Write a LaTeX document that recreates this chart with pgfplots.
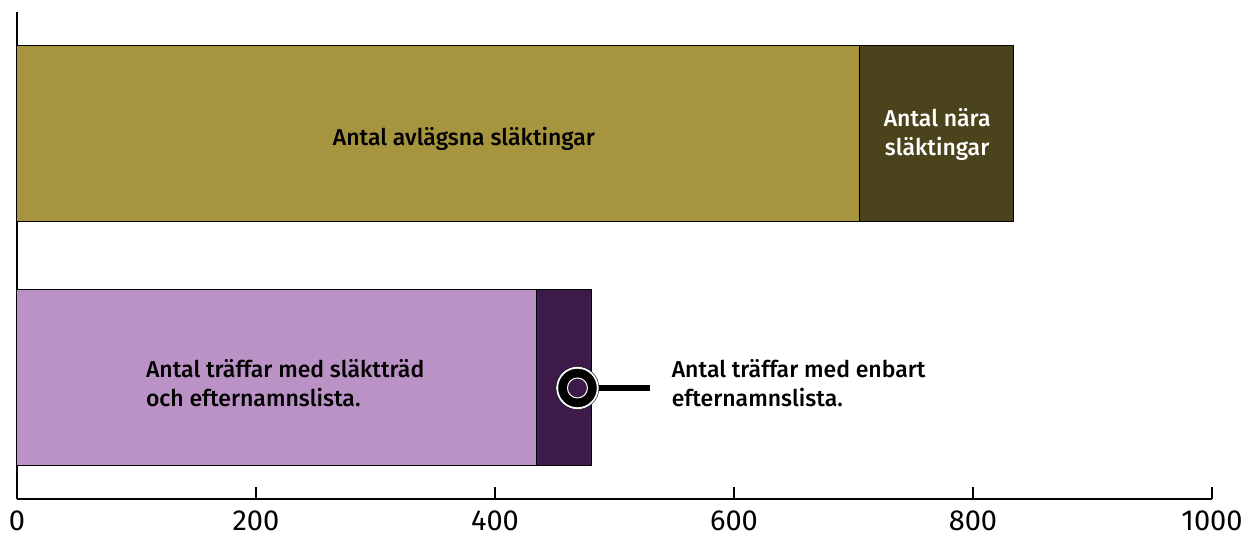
\documentclass[border=0pt]{standalone}
\usepackage{pgfplots}
\pgfplotsset{compat=1.18}
\usepackage{fontspec}
\setmainfont{Fira Sans}
\newfontfamily\labelfont{Fira Sans}[UprightFont={* Medium}]
\definecolor{olive}{HTML}{A6943E}
\definecolor{darkolive}{HTML}{4A431C}
\definecolor{lightpurple}{HTML}{BB92C5}
\definecolor{darkpurple}{HTML}{3C1A4A}
\begin{document}
\begin{tikzpicture}
\path[use as bounding box] (0,0) rectangle (1249pt,545pt);
\begin{axis}[
  at={(17pt,46pt)}, anchor=south west,
  scale only axis, width=1195pt, height=487pt,
  xmin=0, xmax=1000, ymin=-0.496, ymax=1.5,
  axis lines=left, axis line style={line width=2pt, -},
  xtick={0,200,...,1000}, ytick=\empty,
  tick align=inside, major tick length=12pt,
  tick style={line width=1.5pt, black},
  xticklabel style={font=\fontsize{29}{30}\selectfont, yshift=-8pt},
  /pgf/number format/assume math mode=true,
  /pgf/number format/1000 sep={},
  clip=false,
]
\addplot[xbar, bar shift=0pt, bar width=176pt, fill=darkolive, draw=black, line width=1pt] coordinates {(834,1)};
\addplot[xbar, bar shift=0pt, bar width=176pt, fill=olive, draw=black, line width=1pt] coordinates {(705,1)};
\addplot[xbar, bar shift=0pt, bar width=176pt, fill=darkpurple, draw=black, line width=1pt] coordinates {(481,0)};
\addplot[xbar, bar shift=0pt, bar width=176pt, fill=lightpurple, draw=black, line width=1pt] coordinates {(435,0)};
\addplot[black, line width=6.5pt, mark=none] coordinates {(480,-0.041) (530,-0.041)};
\addplot[only marks, mark=*, mark size=21.5pt, mark options={fill=white, draw=none}] coordinates {(469,-0.041)};
\addplot[only marks, mark=*, mark size=19pt, mark options={fill=black, draw=none}] coordinates {(469,-0.041)};
\addplot[only marks, mark=*, mark size=10pt, mark options={fill=darkpurple, draw=white, line width=1pt}] coordinates {(469,-0.041)};
\node[font=\labelfont\fontsize{23}{29}\selectfont] at (axis cs:374,0.98) {Antal avlägsna släktingar};
\node[font=\labelfont\fontsize{23}{29}\selectfont, text=white, align=center] at (axis cs:770,1.0) {Antal nära\\släktingar};
\node[font=\labelfont\fontsize{23}{29}\selectfont, align=left, anchor=west] at (axis cs:105,-0.0225) {Antal träffar med släktträd\\och efternamnslista.};
\node[font=\labelfont\fontsize{23}{29}\selectfont, align=left, anchor=west] at (axis cs:545,-0.0225) {Antal träffar med enbart\\efternamnslista.};
\end{axis}
\end{tikzpicture}
\end{document}
